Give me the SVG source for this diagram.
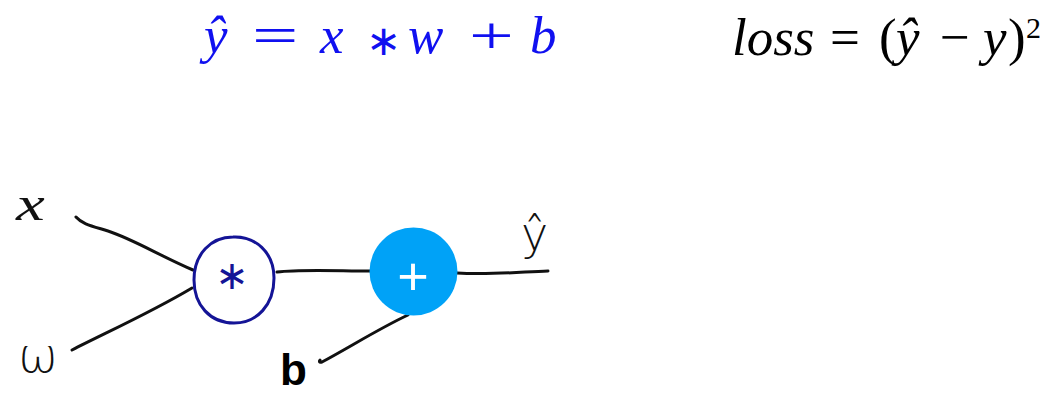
<svg xmlns="http://www.w3.org/2000/svg" width="1059" height="408" viewBox="0 0 1059 408">
<style>
.mb{font-family:"Liberation Serif",serif;font-style:italic;font-size:53px;fill:#1010f0}
.mbu{font-family:"Liberation Serif",serif;font-size:53px;fill:#1010f0}
.mk{font-family:"Liberation Serif",serif;font-style:italic;font-size:53px;fill:#000}
.mku{font-family:"Liberation Serif",serif;font-size:53px;fill:#000}
.hand{font-family:"DejaVu Sans",sans-serif;font-weight:200;fill:#111}
.wire{fill:none;stroke:#111;stroke-width:3;stroke-linecap:round;stroke-linejoin:round}
</style>
<rect width="1059" height="408" fill="#fff"/>
<g id="formula-pred">
<text class="mb" x="204" y="53">ŷ</text>
<text class="mbu" transform="translate(252,53) scale(1.55,1)">=</text>
<text class="mb" x="320" y="53">x</text>
<text x="366" y="55" style="font-family:'DejaVu Sans',sans-serif;font-size:42px;fill:#1010f0">∗</text>
<text class="mb" x="408" y="53">w</text>
<text class="mbu" transform="translate(469,53) scale(1.5,1)">+</text>
<text class="mb" x="530" y="53">b</text>
</g>
<g id="formula-loss">
<text class="mk" x="732" y="55">loss</text>
<text class="mku" x="830" y="55">=</text>
<text class="mku" x="879" y="55">(</text>
<text class="mk" x="896" y="55">ŷ</text>
<text class="mku" x="940" y="55">−</text>
<text class="mk" x="983" y="55">y</text>
<text class="mku" x="1008" y="55">)</text>
<text class="mku" x="1026" y="38" style="font-size:30px">2</text>
</g>
<g id="connectors">
<path class="wire" d="M76,217 C82,224 92,226 108,231 C135,240 160,256 193,270"/>
<path class="wire" d="M72,350 C105,333 150,313 192,288"/>
<path class="wire" d="M277,272 C300,269 340,271 370,271"/>
<path class="wire" d="M457,273 C490,275 520,272 548,271"/>
<path class="wire" d="M408,315 C380,328 350,347 322,362 C319,363 319,361 320,360"/>
</g>
<g id="input-x"><text transform="translate(16,220) scale(1.35,1)" style="font-family:'Liberation Serif',serif;font-style:italic;font-size:48px;fill:#111">x</text></g>
<g id="input-w"><text class="hand" x="18" y="372" style="font-size:48px">ω</text></g>
<g id="node-mul">
<path d="M233,237 C255,236 274,252 274,278 C274,305 257,323 234,323 C210,323 194,305 194,280 C194,254 211,237 233,237 Z" fill="none" stroke="#141496" stroke-width="3"/>
<text x="232" y="289" text-anchor="middle" style="font-family:'DejaVu Sans',sans-serif;font-size:40px;fill:#141496">∗</text>
</g>
<g id="node-add">
<circle cx="413.5" cy="271.5" r="44" fill="#00A2F7"/>
<text x="413" y="295" text-anchor="middle" style="font-family:'Liberation Sans',sans-serif;font-size:54px;fill:#fff">+</text>
</g>
<g id="output-yhat"><text class="hand" x="521" y="250" style="font-size:46px">ŷ</text></g>
<g id="input-b"><text x="280" y="385" style="font-family:'Liberation Sans',sans-serif;font-weight:bold;font-size:44px;fill:#000">b</text></g>
</svg>
